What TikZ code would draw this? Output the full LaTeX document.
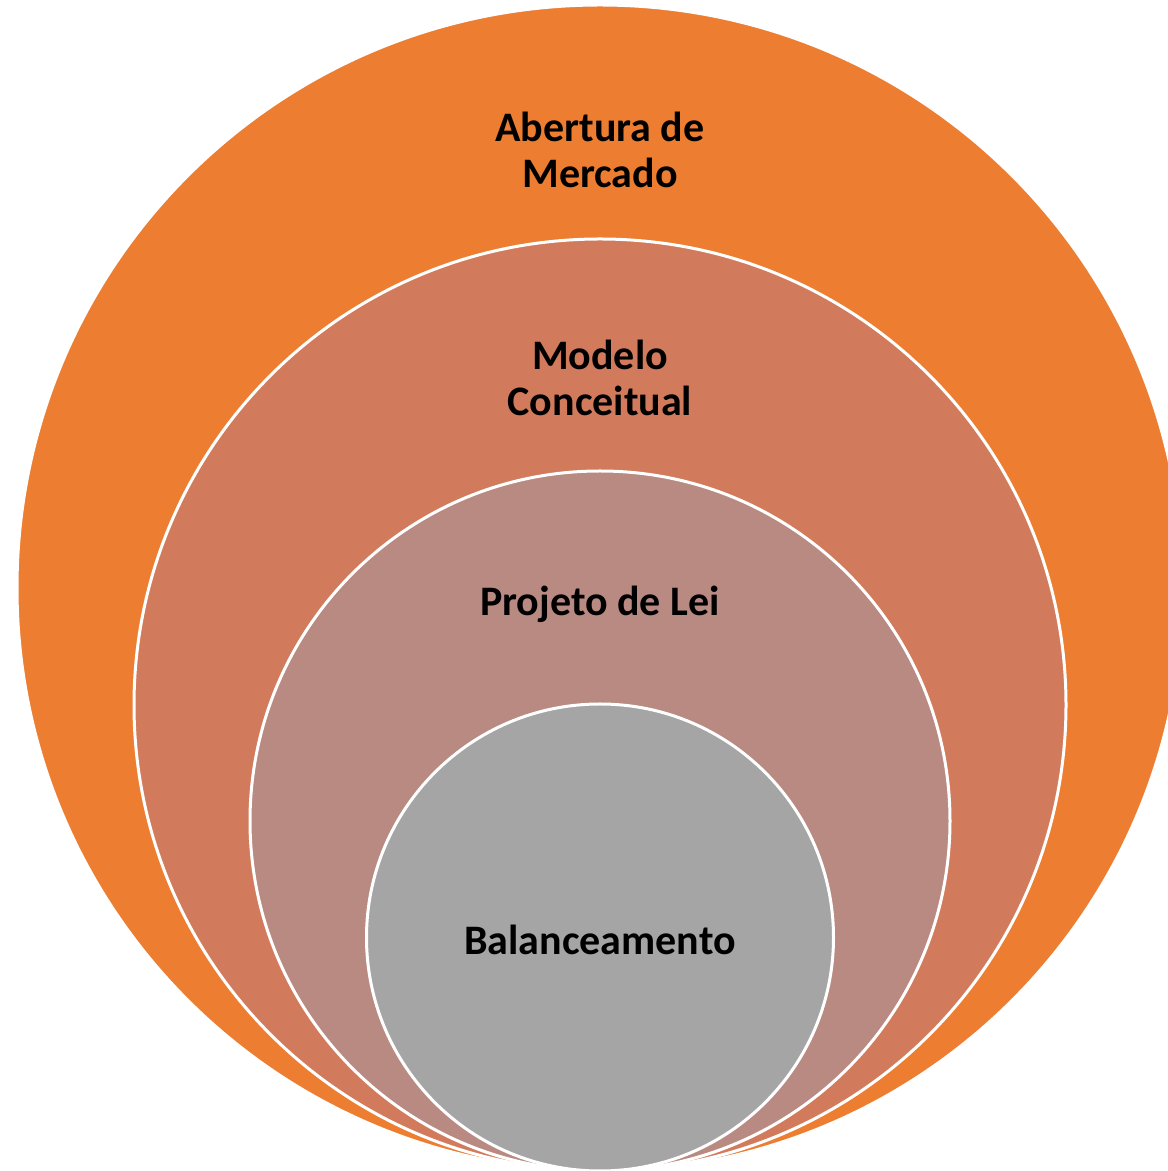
\documentclass[tikz,border=0pt]{standalone}
\usepackage{fontspec}
\setmainfont{Carlito}
\definecolor{cA}{HTML}{ED7D31}
\definecolor{cB}{HTML}{D27B5C}
\definecolor{cC}{HTML}{B98A82}
\definecolor{cD}{HTML}{A5A5A5}
\begin{document}
\begin{tikzpicture}[x=1pt,y=1pt,
  ring/.style={draw=white,line width=3pt},
  lbl/.style={font=\fontsize{42}{46}\selectfont\bfseries,align=center,text=black,inner sep=0pt}]
\useasboundingbox (0,0) rectangle (1168,1171);
\fill[white] (0,0) rectangle (1168,1171);
\filldraw[ring,fill=cA] (600,583) circle (583);
\filldraw[ring,fill=cB] (600,466) circle (466);
\filldraw[ring,fill=cC] (600,350) circle (350);
\filldraw[ring,fill=cD] (600,233.5) circle (233.5);
\node[lbl] (a) at (600,1021) {Abertura de\\Mercado};
\node[lbl] (b) at (600,793) {Modelo\\Conceitual};
\node[lbl] (c) at (600,567) {Projeto de Lei};
\node[lbl] (d) at (600,231) {Balanceamento};
\end{tikzpicture}
\end{document}
